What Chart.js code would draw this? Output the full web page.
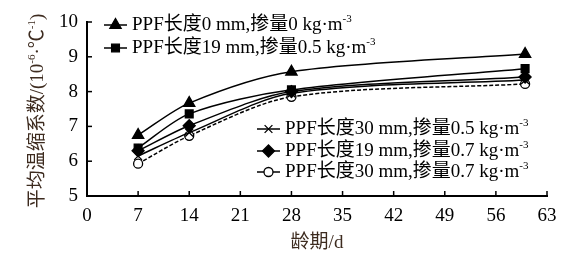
<!DOCTYPE html>
<html>
<head>
<meta charset="utf-8">
<script src="https://cdn.jsdelivr.net/npm/chart.js@4/dist/chart.umd.min.js"></script>
<style>
  html, body { margin: 0; padding: 0; background: #fff; }
  #wrap { width: 585px; height: 259px; position: relative; }
</style>
</head>
<body>
<div id="wrap"><canvas id="c" width="585" height="259"></canvas></div>
<script>
const ages = [7, 14, 28, 60];
const seriesNames = [
  'PPF长度0 mm,掺量0 kg·m',
  'PPF长度19 mm,掺量0.5 kg·m',
  'PPF长度30 mm,掺量0.5 kg·m',
  'PPF长度19 mm,掺量0.7 kg·m',
  'PPF长度30 mm,掺量0.7 kg·m'
];
const len0_dose0 = [6.75, 7.67, 8.57, 9.08];
const len19_dose05 = [6.38, 7.36, 8.05, 8.66];
const len30_dose05 = [6.15, 6.82, 7.95, 8.33];
const len19_dose07 = [6.30, 7.02, 8.00, 8.42];
const len30_dose07 = [5.93, 6.73, 7.85, 8.22];
const xTicks = [0, 7, 14, 21, 28, 35, 42, 49, 56, 63];
const yTicks = [5, 6, 7, 8, 9, 10];

const FONT = '"Liberation Serif", "Noto Sans CJK SC", serif';
const TITLE_COLOR = '#3d2b1f';
const FS = 19;

// 每条线的点形状
const styles = [
  { point: 'triangle', radius: 6.5, fill: '#000', dash: [] },
  { point: 'rect', radius: 5.5, fill: '#000', dash: [] },
  { point: 'crossRot', radius: 5.5, fill: '#000', dash: [] },
  { point: 'rectRot', radius: 6, fill: '#000', dash: [] },
  { point: 'circle', radius: 4.5, fill: '#fff', dash: [4, 2] }
];
const allValues = [len0_dose0, len19_dose05, len30_dose05, len19_dose07, len30_dose07];

const datasets = allValues.map((vals, i) => ({
  label: seriesNames[i],
  data: vals.map((v, k) => ({ x: ages[k], y: v })),
  borderColor: '#000',
  borderWidth: 1.5,
  borderDash: styles[i].dash,
  pointStyle: styles[i].point,
  pointRadius: styles[i].radius,
  pointBackgroundColor: styles[i].fill,
  pointBorderColor: '#000',
  pointBorderWidth: 1.3,
  tension: 0.3,
  fill: false
}));

// 图例位置（两组）
const legendSlots = [
  { x: 104, y: 25 }, { x: 104, y: 48 },
  { x: 257, y: 129 }, { x: 257, y: 151 }, { x: 257, y: 172 }
];

function supText(ctx, parts, x, y) {
  // parts: [text, isSup]
  let cx = x;
  parts.forEach(p => {
    ctx.font = (p[1] ? 11 : FS) + 'px ' + FONT;
    ctx.fillText(p[0], cx, p[1] ? y - 6 : y);
    cx += ctx.measureText(p[0]).width;
  });
  return cx - x;
}

function partsWidth(ctx, parts) {
  let w = 0;
  parts.forEach(p => {
    ctx.font = (p[1] ? 11 : FS) + 'px ' + FONT;
    w += ctx.measureText(p[0]).width;
  });
  return w;
}

const decorPlugin = {
  id: 'decor',
  afterDraw(chart) {
    const ctx = chart.ctx;
    const xs = chart.scales.x, ys = chart.scales.y;
    const area = chart.chartArea;
    ctx.save();
    // inward ticks
    ctx.strokeStyle = '#000';
    ctx.lineWidth = 1.5;
    xTicks.forEach(t => {
      const px = xs.getPixelForValue(t);
      ctx.beginPath(); ctx.moveTo(px, area.bottom); ctx.lineTo(px, area.bottom - 5); ctx.stroke();
    });
    yTicks.forEach(t => {
      const py = ys.getPixelForValue(t);
      ctx.beginPath(); ctx.moveTo(area.left, py); ctx.lineTo(area.left + 5, py); ctx.stroke();
    });

    // axis titles
    ctx.fillStyle = TITLE_COLOR;
    ctx.font = FS + 'px ' + FONT;
    ctx.textAlign = 'center';
    ctx.textBaseline = 'middle';
    ctx.fillText('龄期/d', (area.left + area.right) / 2, 243);

    ctx.save();
    ctx.translate(38, (area.top + area.bottom) / 2 + 2);
    ctx.rotate(-Math.PI / 2);
    ctx.textAlign = 'left';
    const yParts = [['平均温缩系数/(10', false], ['-6', true], ['·℃', false], ['-1', true], [')', false]];
    supText(ctx, yParts, -partsWidth(ctx, yParts) / 2, 0);
    ctx.restore();

    // legend
    legendSlots.forEach((slot, i) => {
      const ds = chart.data.datasets[i];
      ctx.strokeStyle = '#000';
      ctx.lineWidth = 1.5;
      ctx.setLineDash([]);
      ctx.beginPath(); ctx.moveTo(slot.x, slot.y); ctx.lineTo(slot.x + 23, slot.y); ctx.stroke();
      ctx.fillStyle = ds.pointBackgroundColor;
      ctx.lineWidth = 1.3;
      Chart.helpers.drawPoint(ctx, { pointStyle: ds.pointStyle, radius: ds.pointRadius, rotation: 0, borderWidth: 1.3 }, slot.x + 11.5, slot.y);
      ctx.fillStyle = '#000';
      ctx.textAlign = 'left';
      ctx.textBaseline = 'middle';
      supText(ctx, [[ds.label, false], ['-3', true]], slot.x + 28, slot.y);
    });
    ctx.restore();
  }
};

new Chart(document.getElementById('c'), {
  type: 'line',
  data: { datasets: datasets },
  options: {
    responsive: false,
    animation: false,
    layout: { padding: { top: 22, right: 38, left: 0, bottom: 0 } },
    plugins: { legend: { display: false }, tooltip: { enabled: false } },
    scales: {
      x: {
        type: 'linear',
        min: 0, max: 63,
        afterBuildTicks: s => { s.ticks = xTicks.map(v => ({ value: v })); },
        afterFit: s => { s.height = 63; },
        grid: { display: true, drawOnChartArea: false, drawTicks: false },
        border: { color: '#000', width: 2 },
        ticks: { color: '#000', padding: 9, maxRotation: 0, font: { family: FONT, size: FS } }
      },
      y: {
        min: 5, max: 10,
        afterBuildTicks: s => { s.ticks = yTicks.map(v => ({ value: v })); },
        afterFit: s => { s.width = 87; },
        grid: { display: true, drawOnChartArea: false, drawTicks: false },
        border: { color: '#000', width: 2 },
        ticks: { color: '#000', padding: 9, font: { family: FONT, size: FS } }
      }
    }
  },
  plugins: [decorPlugin]
});
</script>
</body>
</html>
